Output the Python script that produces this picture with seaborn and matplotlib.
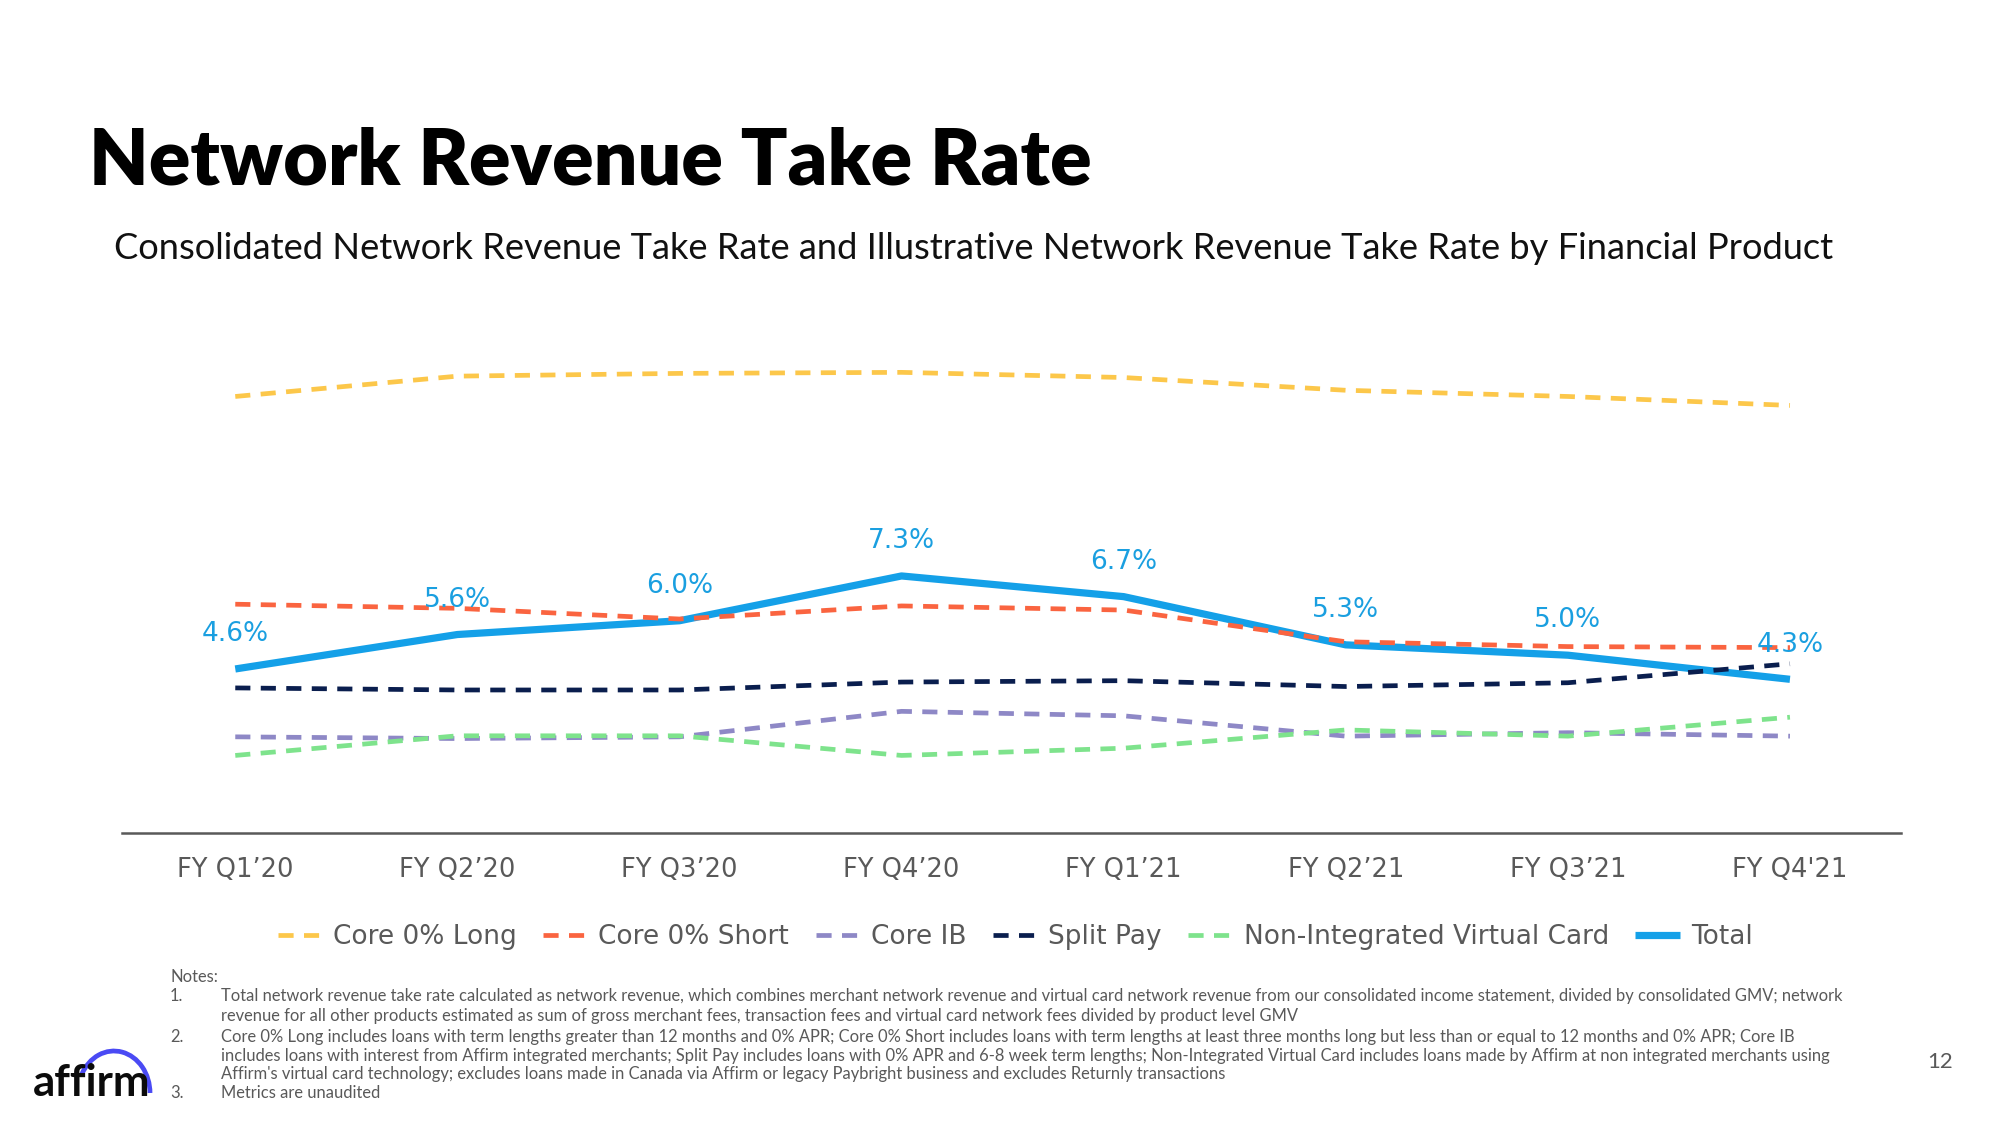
import numpy as np
import pandas as pd
import matplotlib.pyplot as plt
import seaborn as sns
from matplotlib.patches import Arc

# quarters and take rates (%)
quarters = ["FY Q1\u201920", "FY Q2\u201920", "FY Q3\u201920", "FY Q4\u201920",
            "FY Q1\u201921", "FY Q2\u201921", "FY Q3\u201921", "FY Q4'21"]
core_long = [12.51, 13.10, 13.18, 13.21, 13.06, 12.69, 12.51, 12.25]
core_short = [6.48, 6.36, 6.05, 6.43, 6.31, 5.39, 5.25, 5.22]
core_ib = [2.63, 2.58, 2.63, 3.37, 3.24, 2.65, 2.75, 2.65]
split_pay = [4.05, 3.99, 3.99, 4.22, 4.26, 4.09, 4.20, 4.75]
nivc = [2.09, 2.66, 2.66, 2.09, 2.30, 2.83, 2.65, 3.20]
total = [4.6, 5.6, 6.0, 7.3, 6.7, 5.3, 5.0, 4.3]

series_names = ["Core 0% Long", "Core 0% Short", "Core IB", "Split Pay",
                "Non-Integrated Virtual Card", "Total"]
series_vals = [core_long, core_short, core_ib, split_pay, nivc, total]
colors = ["#FCC74A", "#FA6440", "#8E88C6", "#0A1E4E", "#7EE38C", "#14A0E8"]

sns.set_style("white")
plt.rcParams['font.family'] = ['DejaVu Sans']

fig = plt.figure(figsize=(20, 11.25), dpi=100)
ax = fig.add_axes([0.061, 0.2596, 0.8895, 0.4382])

x = np.arange(len(quarters))
handles = []
for name, vals, col in zip(series_names, series_vals, colors):
    if name == "Total":
        sns.lineplot(x=x, y=vals, color=col, linewidth=5.2, ax=ax, zorder=2,
                     solid_capstyle='butt')
    else:
        sns.lineplot(x=x, y=vals, color=col, linewidth=3.4, ax=ax, zorder=3,
                     linestyle=(0, (3.2, 2.2)))
    handles.append(ax.lines[-1])

# labels on the total line
for xi, v in zip(x, total):
    ax.annotate(f"{v:.1f}%", (xi, v), xytext=(0, 25), textcoords='offset points',
                ha='center', va='center', fontsize=19, color="#1A9FE0", zorder=5)

ax.set_xlim(-0.51, 7.5)
ax.set_ylim(-0.16, 14.15)
ax.set_xticks(x)
ax.set_xticklabels(quarters, fontsize=18.5, color="#595959")
ax.set_yticks([])
ax.tick_params(axis='x', length=0, pad=17)
for s in ['top', 'right', 'left']:
    ax.spines[s].set_visible(False)
ax.spines['bottom'].set_color("#595959")
ax.spines['bottom'].set_linewidth(1.8)
ax.set_xlabel("")
ax.set_ylabel("")

fig.legend(handles, series_names, loc='center', bbox_to_anchor=(1015 / 2000, (1125 - 937) / 1125),
           ncol=6, frameon=False, fontsize=19, labelcolor="#595959",
           handlelength=1.7, handletextpad=0.4, columnspacing=1.0)

# titles
fig.text(89 / 2000, (1125 - 185) / 1125, "Network Revenue Take Rate", fontsize=55.5,
         fontweight='heavy', family=['Lato', 'DejaVu Sans'], color="#000000", va='baseline')
fig.text(974 / 2000, (1125 - 259) / 1125,
         "Consolidated Network Revenue Take Rate and Illustrative Network Revenue Take Rate by Financial Product",
         fontsize=26.1, family=['Lato', 'DejaVu Sans'], color="#111111", ha='center', va='baseline')

# footnotes
note_font = dict(fontsize=11.9, family=['Lato', 'DejaVu Sans'], color="#595959", va='center')
fig.text(170 / 2000, (1125 - 977) / 1125, "Notes:", **note_font)
notes = [
    ("1.", "Total network revenue take rate calculated as network revenue, which combines merchant network revenue and virtual card network revenue from our consolidated income statement, divided by consolidated GMV; network"),
    ("", "revenue for all other products estimated as sum of gross merchant fees, transaction fees and virtual card network fees divided by product level GMV"),
    ("2.", "Core 0% Long includes loans with term lengths greater than 12 months and 0% APR; Core 0% Short includes loans with term lengths at least three months long but less than or equal to 12 months and 0% APR; Core IB"),
    ("", "includes loans with interest from Affirm integrated merchants; Split Pay includes loans with 0% APR and 6-8 week term lengths; Non-Integrated Virtual Card includes loans made by Affirm at non integrated merchants using"),
    ("", "Affirm's virtual card technology; excludes loans made in Canada via Affirm or legacy Paybright business and excludes Returnly transactions"),
    ("3.", "Metrics are unaudited"),
]
note_y = [996, 1016, 1037, 1056, 1074, 1093]
for (num, txt), yy in zip(notes, note_y):
    if num:
        fig.text(170 / 2000, (1125 - yy) / 1125, num, **note_font)
    fig.text(221 / 2000, (1125 - yy) / 1125, txt, **note_font)

# page number
fig.text(1940 / 2000, (1125 - 1062) / 1125, "12", fontsize=16, color="#595959",
         family=['Lato', 'DejaVu Sans'], ha='center', va='center')

# logo
fig.text(33 / 2000, (1125 - 1096) / 1125, "affirm", fontsize=31.5, fontweight='bold',
         family=['Lato', 'DejaVu Sans'], color="#0B0B0B", va='baseline')
fig.add_artist(Arc((1.14, 0.32), 0.72, 0.84, theta1=0, theta2=150,
                   transform=fig.dpi_scale_trans, color="#4A4AF4", lw=3.4))

fig.savefig("out.png", dpi=100)
